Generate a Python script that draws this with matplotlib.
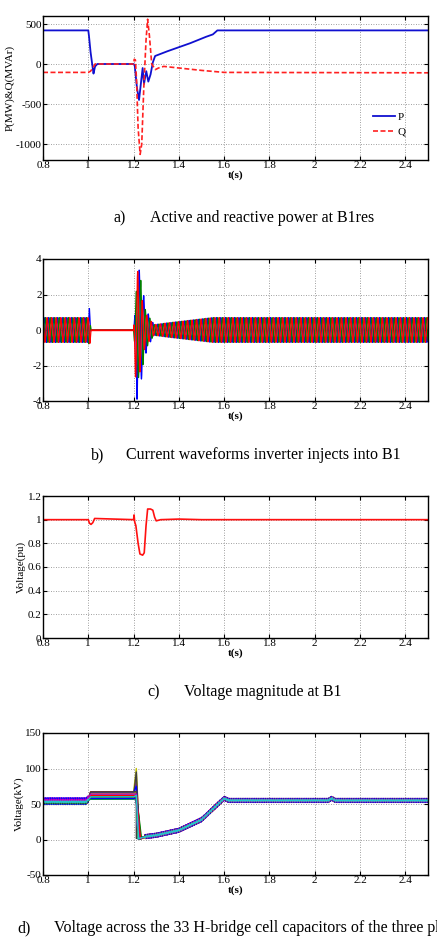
import numpy as np
import matplotlib
matplotlib.use("Agg")
import matplotlib.pyplot as plt

plt.rcParams["font.family"] = ["Liberation Serif", "DejaVu Serif"]
plt.rcParams["axes.unicode_minus"] = False

W, H = 437, 944

# ── shared x axis ─────────────────────────────────────────────────────────────
XTICKS = [0.8, 1.0, 1.2, 1.4, 1.6, 1.8, 2.0, 2.2, 2.4]
XTICK_LABELS = ["0.8", "1", "1.2", "1.4", "1.6", "1.8", "2", "2.2", "2.4"]

# ── a) active / reactive power ────────────────────────────────────────────────
P_T = [0.8, 1.0, 1.003, 1.01, 1.02, 1.023, 1.03, 1.04, 1.2, 1.205, 1.215, 1.224,
       1.232, 1.24, 1.246, 1.252, 1.256, 1.265, 1.275, 1.285, 1.295, 1.35, 1.45,
       1.52, 1.55, 1.57, 2.5]
P_V = [420, 420, 350, 150, -60, -120, -30, 0, 0, -20, -300, -450,
       -250, -50, -250, -150, -90, -220, -130, 20, 100, 160, 260,
       340, 370, 420, 420]
Q_T = [0.8, 1.0, 1.01, 1.02, 1.03, 1.2, 1.203, 1.208, 1.213, 1.22, 1.229, 1.236,
       1.245, 1.255, 1.262, 1.27, 1.28, 1.296, 1.31, 1.333, 1.4, 1.5, 1.6, 2.5]
Q_V = [-105, -105, -90, -50, 0, 0, 60, 50, -200, -800, -1130, -1000,
       -300, 300, 560, 350, 0, -70, -50, -30, -50, -80, -105, -110]

# ── b) inverter currents: amplitude envelope per phase (pu) ───────────────────
I_FREQ = 50.0
ENV_T = [0.8, 1.0, 1.005, 1.012, 1.2, 1.207, 1.215, 1.232, 1.25, 1.265, 1.29,
         1.35, 1.45, 1.55, 2.5]
ENV_A = [0.7, 0.7, 1.2, 0.0, 0.0, 1.0, 3.9, 3.0, 1.5, 0.9, 0.3, 0.4, 0.55, 0.7, 0.7]
ENV_B = [0.7, 0.7, 0.9, 0.0, 0.0, 1.5, 2.6, 2.8, 1.2, 0.8, 0.3, 0.4, 0.55, 0.7, 0.7]
ENV_C = [0.7, 0.7, 1.15, 0.0, 0.0, 2.4, 3.6, 2.0, 1.0, 0.7, 0.3, 0.4, 0.55, 0.7, 0.7]

# ── c) voltage magnitude at B1 (pu) ───────────────────────────────────────────
V_T = [0.8, 1.0, 1.005, 1.012, 1.02, 1.028, 1.2, 1.202, 1.205, 1.21, 1.22, 1.228,
       1.24, 1.247, 1.255, 1.262, 1.275, 1.285, 1.293, 1.3, 1.32, 1.4, 1.5, 2.5]
V_V = [1.0, 1.0, 0.97, 0.96, 0.975, 1.01, 1.0, 1.04, 0.98, 0.95, 0.80, 0.71,
       0.70, 0.72, 0.95, 1.09, 1.09, 1.08, 1.02, 0.99, 1.0, 1.005, 1.0, 1.0]

# ── d) 33 H-bridge cell capacitor voltages (kV) ───────────────────────────────
CELL_PRE = [53, 54, 52, 55, 53, 54, 52, 56, 53, 55, 54, 52, 53, 55, 54, 53, 52,
            56, 54, 53, 55, 52, 54, 53, 55, 53, 54, 52, 56, 53, 54, 55, 53]
CELL_MID = [57, 59, 61, 63, 65, 67, 58, 60, 62, 64, 66, 57, 59, 61, 63, 65, 67,
            58, 60, 62, 64, 66, 57, 59, 61, 63, 65, 67, 58, 60, 62, 64, 60]
CELL_PEAK = [60, 62, 64, 83, 66, 100, 58, 62, 64, 66, 68, 58, 60, 95, 64, 66, 68,
             58, 62, 64, 66, 75, 58, 60, 62, 64, 66, 68, 58, 60, 62, 64, 62]
CELL_DROP = [1.222, 1.225, 1.23, 1.228, 1.222, 1.226, 1.205, 1.22, 1.235, 1.224,
             1.222, 1.22, 1.228, 1.226, 1.222, 1.232, 1.224, 1.22, 1.226, 1.222,
             1.23, 1.226, 1.222, 1.224, 1.228, 1.22, 1.222, 1.226, 1.224, 1.222,
             1.23, 1.224, 1.222]
CELL_RIPPLE = [2.2, 1.0, 2.6, 1.4, 2.0, 1.2, 2.8, 1.6, 1.0, 2.4, 1.8, 2.2, 1.2,
               2.6, 1.4, 2.0, 1.0, 2.8, 1.6, 2.2, 1.2, 2.4, 1.8, 1.0, 2.6, 1.4,
               2.0, 1.2, 2.8, 1.6, 1.0, 1.8, 1.2]
REC_T = [1.25, 1.3, 1.4, 1.5, 1.59, 1.6, 1.62, 2.06, 2.075, 2.09, 2.5]
REC_V = [4, 6, 13, 28, 55, 58, 55, 55, 58, 55, 55]
CELL_COLORS = ["#0000ff", "#008000", "#ff0000", "#bf00bf", "#20c8c8", "#bfbf00", "#404040"]

t = np.arange(0.8, 2.5001, 0.0002)


def px_axes(fig, left, top, right, bottom):
    return fig.add_axes([left / W, 1 - bottom / H, (right - left) / W, (bottom - top) / H])


def style(ax, ylim, yticks, ylabels, ylabel=None, ylabel_x=None):
    ax.set_xlim(0.8, 2.5)
    ax.set_ylim(*ylim)
    ax.set_xticks(XTICKS)
    ax.set_xticklabels(XTICK_LABELS)
    ax.set_yticks(yticks)
    ax.set_yticklabels(ylabels)
    ax.grid(True, linestyle=(0, (1, 2)), color="0.5", linewidth=0.6)
    ax.tick_params(direction="in", top=True, right=True, length=3, width=0.8,
                   labelsize=8, pad=1.0)
    for s in ax.spines.values():
        s.set_linewidth(1.0)
    ax.set_xlabel("t(s)", fontsize=8, labelpad=0, fontweight="bold")
    if ylabel:
        ax.set_ylabel(ylabel, fontsize=8, labelpad=1)
        if ylabel_x is not None:
            ax.yaxis.set_label_coords(ylabel_x, 0.5)


def caption(fig, x_tag, x_text, y, tag, text):
    fig.text(x_tag / W, 1 - y / H, tag, fontsize=11.5, va="center")
    fig.text(x_text / W, 1 - y / H, text, fontsize=11.5, va="center")


fig = plt.figure(figsize=(W / 100, H / 100), dpi=100)

# a)
ax = px_axes(fig, 43, 16, 428, 160)
ax.plot(P_T, P_V, color="#1010d0", lw=1.3, label="P")
ax.plot(Q_T, Q_V, color="#ff2020", lw=1.2, ls=(0, (3, 1.5)), label="Q")
style(ax, (-1200, 600), [-1000, -500, 0, 500], ["-1000", "-500", "0", "500"],
      "P(MW)&Q(MVAr)", -0.074)
ax.legend(loc="center", bbox_to_anchor=(0.9, 0.245), frameon=False, fontsize=8,
          handlelength=2.0, handletextpad=0.2, labelspacing=0.45, borderpad=0)
caption(fig, 114, 150, 218, "a)", "Active and reactive power at B1res")

# b)
ax = px_axes(fig, 43, 259, 428, 401)
for env, ph, col in [(ENV_A, 0.0, "#0000ff"), (ENV_B, -2 * np.pi / 3, "#008000"),
                     (ENV_C, 2 * np.pi / 3, "#ff0000")]:
    amp = np.interp(t, ENV_T, env)
    ax.plot(t, amp * np.sin(2 * np.pi * I_FREQ * t + ph), color=col, lw=0.9)
ax.axhline(0, xmin=(1.012 - 0.8) / 1.7, xmax=(1.2 - 0.8) / 1.7, color="#ff0000", lw=1.0)
style(ax, (-4, 4), [-4, -2, 0, 2, 4], ["-4", "-2", "0", "2", "4"])
caption(fig, 91, 126, 455, "b)", "Current waveforms inverter injects into B1")

# c)
ax = px_axes(fig, 43, 496, 428, 638)
ax.plot(V_T, V_V, color="#ff1010", lw=1.2)
style(ax, (0, 1.2), [0, 0.2, 0.4, 0.6, 0.8, 1.0, 1.2],
      ["0", "0.2", "0.4", "0.6", "0.8", "1", "1.2"], "Voltage(pu)", -0.045)
caption(fig, 147, 184, 692, "c)", "Voltage magnitude at B1")

# d)
ax = px_axes(fig, 43, 733, 428, 875)
for i in range(33):
    kt = [0.8, 0.99, 1.0, 1.01, 1.2, 1.212, CELL_DROP[i]] + REC_T
    kv = [CELL_PRE[i], CELL_PRE[i], CELL_PRE[i] + 3, CELL_MID[i], CELL_MID[i],
          CELL_PEAK[i], 1] + REC_V
    base = np.interp(t, kt, kv)
    ripple = CELL_RIPPLE[i] * np.sin(2 * np.pi * 100 * t + i * 0.9)
    ripple[(t > 1.0) & (t < 1.25)] = 0
    ax.plot(t, base + ripple, color=CELL_COLORS[i % 7], lw=1.0)
style(ax, (-50, 150), [-50, 0, 50, 100, 150], ["-50", "0", "50", "100", "150"],
      "Voltage(kV)", -0.05)
caption(fig, 17, 54, 928, "d)", "Voltage across the 33 H-bridge cell capacitors of the three phases")

fig.savefig("out.png", dpi=100)
